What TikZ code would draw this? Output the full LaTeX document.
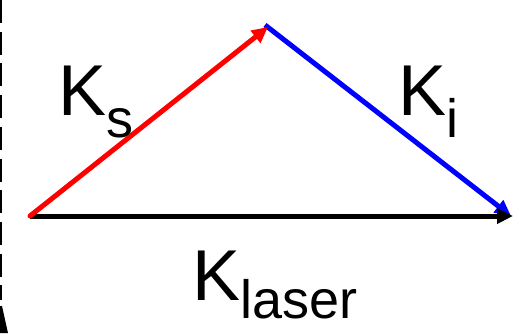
\documentclass[tikz,border=0pt]{standalone}
\usepackage{fontspec}
\setmainfont{Liberation Sans}
\usetikzlibrary{arrows.meta, positioning, calc}
\definecolor{vecred}{RGB}{255, 0, 0}
\definecolor{vecblue}{RGB}{0, 0, 255}
\newcommand{\ksub}[1]{\raisebox{-22pt}{\fontsize{54}{60}\selectfont #1}}

\begin{document}
\begin{tikzpicture}[x=1pt, y=-1pt,
  vec/.style={line width=5pt, -{Triangle[length=16pt, width=15pt]}},
  lbl/.style={anchor=base west, inner sep=0pt, font=\fontsize{72}{80}\selectfont}]
\useasboundingbox (0,0) rectangle (520,335);
\coordinate (o) at (30,216);
\coordinate (top) at (265,25);
\coordinate (rs) at (268,27);
\coordinate (tip) at (513,216);
\coordinate (bi) at (511,216);
% wave vectors
\draw[vec, vecblue] (top) -- (bi);
\draw[vec, black] (o) -- (tip);
\draw[vec, vecred, line cap=round] (o) -- (rs);
% labels
\node[lbl] (ks) at (58,115) {K\ksub{s}};
\node[lbl] (ki) at (398,115) {K\ksub{i}};
\node[lbl] (kl) at (192,300) {K\raisebox{-18pt}{\fontsize{54}{60}\selectfont laser}};
% cut edge on the left
\draw[line width=2pt, dash pattern=on 23pt off 8.7pt] (1,0) -- (1,300);
\fill (0,306) -- (2,306) -- (8,333) -- (0,333) -- cycle;
\end{tikzpicture}
\end{document}
